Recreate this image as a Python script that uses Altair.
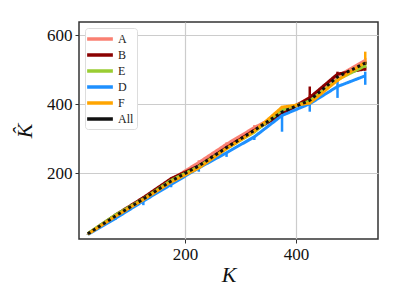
import altair as alt
import pandas as pd

K = [25, 75, 125, 175, 225, 275, 325, 375, 425, 475, 525]
series_names = ["A", "B", "E", "D", "F", "All"]
colors = ["#FA8072", "#8B0000", "#9ACD32", "#1E90FF", "#FFA500", "#111111"]

A = [25, 78, 128, 182, 232, 285, 333, 375, 420, 482, 528]
B = [25, 80, 130, 185, 222, 275, 325, 372, 420, 488, 503]
E = [26, 80, 126, 180, 220, 272, 320, 384, 410, 472, 512]
D = [23, 70, 120, 168, 216, 260, 306, 368, 402, 452, 483]
F = [24, 76, 124, 175, 216, 272, 322, 392, 404, 470, 522]
ALL = [25, 77, 126, 178, 222, 275, 325, 378, 412, 480, 520]

# lower / upper error bar ends
A_lo = [25, 76, 125, 178, 228, 280, 328, 372, 415, 476, 520]
A_hi = [25, 80, 131, 186, 238, 290, 340, 380, 428, 488, 535]
B_lo = [25, 78, 128, 182, 219, 272, 322, 369, 414, 484, 498]
B_hi = [25, 82, 133, 188, 226, 279, 329, 377, 452, 495, 510]
E_lo = [26, 78, 124, 177, 217, 269, 317, 380, 405, 468, 506]
E_hi = [26, 82, 128, 183, 223, 275, 323, 388, 415, 476, 518]
D_lo = [22, 66, 108, 160, 205, 248, 297, 321, 379, 419, 457]
D_hi = [24, 72, 122, 170, 218, 262, 308, 370, 404, 471, 495]
F_lo = [23, 74, 121, 172, 213, 269, 319, 388, 400, 465, 515]
F_hi = [25, 78, 127, 178, 219, 275, 325, 396, 408, 475, 553]
ALL_lo = [25, 76, 124, 176, 220, 273, 323, 375, 409, 477, 516]
ALL_hi = [25, 78, 128, 180, 224, 277, 327, 381, 415, 483, 524]

vals = [A, B, E, D, F, ALL]
los = [A_lo, B_lo, E_lo, D_lo, F_lo, ALL_lo]
his = [A_hi, B_hi, E_hi, D_hi, F_hi, ALL_hi]

rows = []
for i, name in enumerate(series_names):
    for j, k in enumerate(K):
        rows.append({"series": name, "order": i, "K": k, "Khat": vals[i][j],
                     "lo": los[i][j], "hi": his[i][j]})
df = pd.DataFrame(rows)

FONT = "Liberation Serif"
xscale = alt.Scale(domain=[9, 548], nice=False, zero=False)
yscale = alt.Scale(domain=[10, 639], nice=False, zero=False)
cscale = alt.Scale(domain=series_names, range=colors)

legend = alt.Legend(orient="top-left", offset=6, symbolType="M-2.1,0H2.1",
                    symbolStrokeWidth=3.5, symbolSize=150,
                    labelFont=FONT, labelFontSize=12, labelColor="#222",
                    fillColor="white", strokeColor="#dddddd",
                    cornerRadius=3, padding=3, rowPadding=1, labelOffset=10,
                    symbolOffset=4, symbolDash=[1, 0])

xaxis = alt.Axis(values=[200, 400], title="K", titleFontStyle="italic",
                 titleFontSize=22, titleFontWeight="normal", titlePadding=2,
                 labelFont=FONT, titleFont=FONT, labelFontSize=17)
yaxis = alt.Axis(values=[200, 400, 600], title="K\u0302", titleFontStyle="italic",
                 titleFontSize=22, titleFontWeight="normal", titlePadding=10,
                 labelFont=FONT, titleFont=FONT, labelFontSize=17)

base = alt.Chart(df)

errs = base.mark_rule(strokeWidth=2.5, clip=True).encode(
    x=alt.X("K:Q", scale=xscale, axis=xaxis),
    y=alt.Y("lo:Q", scale=yscale, axis=yaxis),
    y2="hi:Q",
    color=alt.Color("series:N", scale=cscale, title=None, legend=legend),
)

lines = base.mark_line(strokeWidth=3, clip=True).encode(
    x=alt.X("K:Q", scale=xscale),
    y=alt.Y("Khat:Q", scale=yscale),
    color=alt.Color("series:N", scale=cscale, title=None, legend=legend),
    strokeDash=alt.condition(alt.datum.series == "All", alt.value([3, 3]), alt.value([1, 0])),
    strokeWidth=alt.condition(alt.datum.series == "All", alt.value(1.5), alt.value(3)),
    order=alt.Order("order:Q"),
)

chart = alt.layer(errs, lines).properties(
    width=299, height=217,
    autosize=alt.AutoSizeParams(type="none"),
    padding={"left": 71, "top": 14, "right": 10, "bottom": 50},
).configure_view(
    stroke="#333333", strokeWidth=1.5
).configure_axis(
    labelFont=FONT, titleFont=FONT, labelFontSize=17, labelColor="#111",
    titleColor="#111", gridColor="#cccccc", gridWidth=1.2, domain=False,
    tickColor="#333", tickSize=4, labelPadding=3
)

chart.save("out.html", embed_options={"renderer": "svg", "actions": False})
